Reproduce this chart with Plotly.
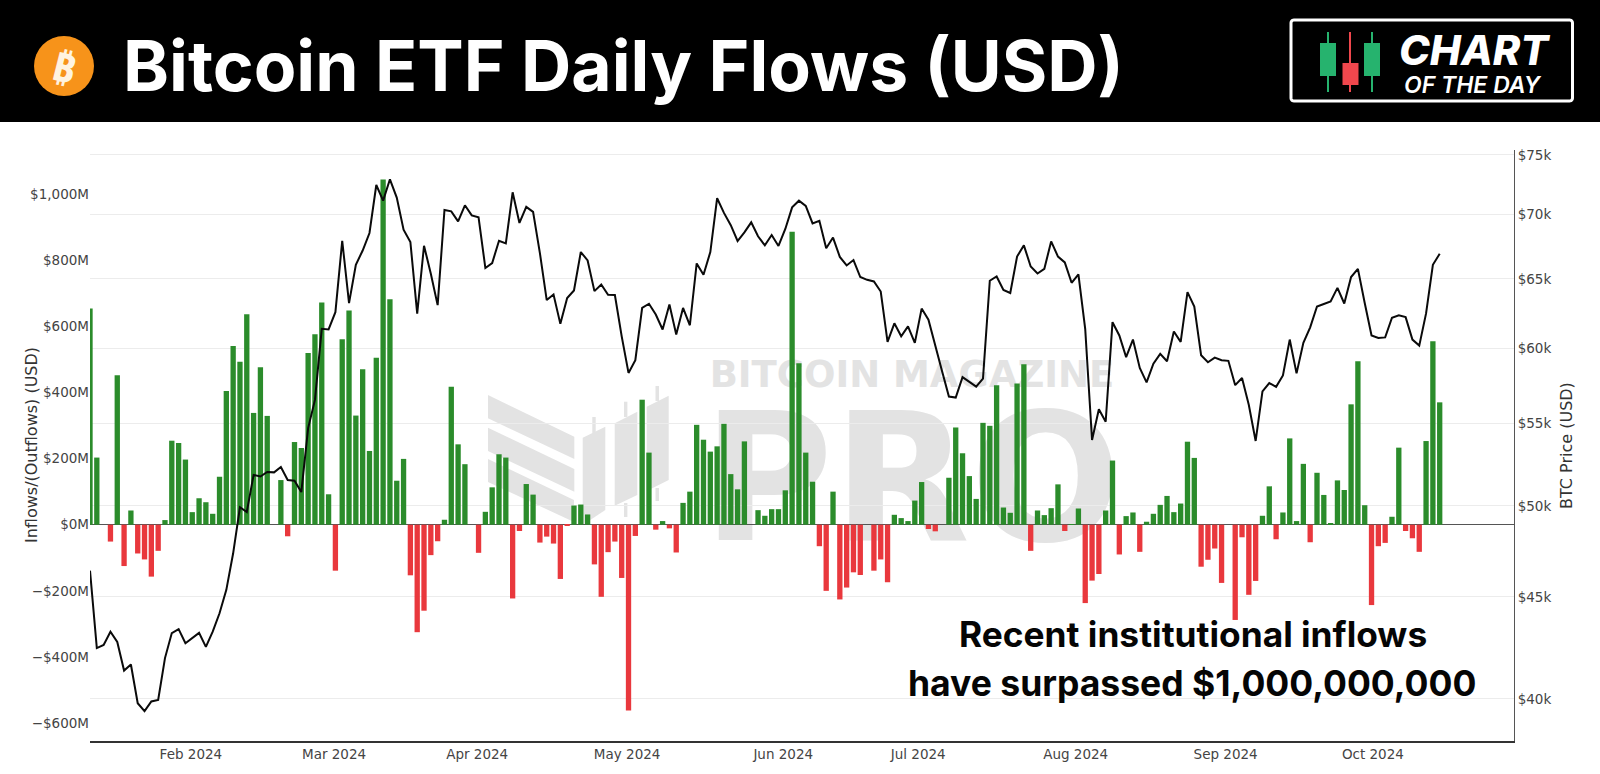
import math
import plotly.graph_objects as go

# Daily net flows (USD millions), one per trading session
flows_m = [654, 203, 0, -51, 452, -125, 43, -87, -105, -157, -79, 14, 254, 247, 197, 38, 80, 68, 33, 145,
           404, 540, 493, 636, 338, 476, 329, 0, 135, -35, 250, 232, 519, 576, 672, 92, -139, 561, 648, 330,
           470, 223, 505, 1044, 682, 133, 199, -153, -325, -260, -92, -50, 15, 417, 243, 183, 0, -85, 39, 113,
           213, 203, -223, -19, 123, 91, -54, -36, -57, -164, -4, 58, 61, 31, -120, -218, -83, -51, -161, -562,
           -34, 378, 218, -15, 11, -11, -84, 66, 100, 302, 257, 221, 237, 305, 153, 107, 252, 0, 44, 27,
           47, 47, 104, 886, 488, 218, 130, -65, -200, 100, -226, -190, -144, -152, 0, -139, -105, -174, 30, 20,
           11, 73, 129, -13, -20, 0, 142, 294, 216, 147, 78, 308, 299, 422, 52, 36, 427, 485, -79, 43,
           29, 50, 122, -19, 1, 49, -237, -169, -149, 43, 194, -90, 26, 37, -82, 9, 33, 60, 87, 38,
           64, 251, 202, -127, -106, -72, -176, 0, -288, -38, -212, -170, 27, 116, -44, 37, 261, 11, 184, -53,
           157, 90, 4, 134, 105, 364, 494, 59, -243, -65, -55, 24, 233, -19, -41, -82, 253, 555, 370]

# BTC close (USD thousands), same sessions
btc_k = [46.39, 42.42, 42.57, 43.23, 42.72, 41.33, 41.62, 39.80, 39.44, 39.88, 39.95, 41.93, 43.16, 43.36, 42.66, 42.91, 43.17, 42.48, 43.23, 44.16,
         45.37, 47.33, 49.92, 49.64, 51.82, 51.72, 51.99, 51.97, 52.29, 51.51, 51.47, 50.80, 54.70, 56.51, 61.35, 61.30, 62.54, 67.92, 63.20, 66.06,
         67.16, 68.53, 72.44, 71.14, 72.92, 71.39, 68.80, 67.82, 62.43, 67.53, 65.38, 63.05, 70.38, 70.27, 69.46, 70.76, 69.94, 69.78, 65.81, 66.19,
         67.92, 67.71, 71.83, 69.33, 70.63, 70.22, 66.96, 63.42, 63.83, 61.70, 63.57, 64.13, 67.04, 66.39, 64.08, 64.57, 63.81, 63.79, 60.82, 58.30,
         59.16, 62.85, 63.15, 62.37, 61.30, 63.10, 60.94, 62.85, 61.60, 66.16, 65.30, 67.04, 71.34, 70.14, 69.15, 67.90, 68.58, 69.38, 68.27, 67.56,
         68.37, 67.51, 68.85, 70.59, 71.14, 70.71, 69.30, 69.51, 67.34, 68.17, 66.66, 66.01, 66.42, 65.13, 64.92, 64.80, 64.05, 60.43, 61.74, 60.82,
         61.52, 60.36, 62.80, 62.00, 60.12, 58.41, 56.73, 56.66, 58.02, 57.70, 57.38, 57.92, 64.85, 65.17, 64.16, 63.94, 66.69, 67.56, 65.93, 65.40,
         65.75, 67.87, 66.69, 66.24, 64.70, 65.33, 61.32, 53.95, 55.90, 55.10, 61.82, 60.88, 59.37, 60.59, 58.64, 57.67, 58.92, 59.60, 59.09, 61.16,
         60.43, 64.00, 62.95, 59.50, 59.02, 59.34, 59.16, 59.12, 57.48, 57.96, 56.18, 53.89, 57.07, 57.62, 57.37, 58.13, 60.59, 58.27, 60.36, 61.45,
         62.95, 63.13, 63.32, 64.32, 63.17, 65.13, 65.75, 63.20, 60.88, 60.70, 60.74, 62.14, 62.31, 62.18, 60.59, 60.17, 62.45, 66.06, 66.90]

sessions = list(range(len(flows_m)))
month_labels = ["Feb 2024", "Mar 2024", "Apr 2024", "May 2024", "Jun 2024", "Jul 2024", "Aug 2024", "Sep 2024", "Oct 2024"]
month_positions = [14.8, 35.8, 56.8, 78.8, 101.7, 121.5, 144.6, 166.6, 188.2]
price_ticks = [40, 45, 50, 55, 60, 65, 70, 75]
price_labels = ["$40k", "$45k", "$50k", "$55k", "$60k", "$65k", "$70k", "$75k"]

GREEN, RED = "#2b8c2b", "#e9383d"
WM = "#e3e3e3"
FONT = "DejaVu Sans"

# Plot box in page pixels
L, R, T, B = 90, 1514, 150, 741
px = lambda x: (x - L) / (R - L)
py = lambda y: (B - y) / (B - T)


def rect(x0, y0, x1, y1, fill, line=None, lw=0, layer="above"):
    return dict(type="rect", xref="paper", yref="paper", x0=px(x0), x1=px(x1), y0=py(y0), y1=py(y1),
                fillcolor=fill, line=dict(color=line or fill, width=lw), layer=layer)


def poly(points, fill, layer="below"):
    d = "M" + " L".join(f"{px(x):.5f},{py(y):.5f}" for x, y in points) + " Z"
    return dict(type="path", xref="paper", yref="paper", path=d, fillcolor=fill, line=dict(width=0), layer=layer)


def rounded(x0, y0, x1, y1, r):
    pts = []
    for cx, cy, a0 in [(x1 - r, y0 + r, -90), (x1 - r, y1 - r, 0), (x0 + r, y1 - r, 90), (x0 + r, y0 + r, 180)]:
        for k in range(7):
            a = math.radians(a0 + 15 * k)
            pts.append((cx + r * math.cos(a), cy + r * math.sin(a)))
    return pts


def text(x, y, s, size, color, family="Inter", weight=400, style="normal", angle=0, anchor="center"):
    return dict(xref="paper", yref="paper", x=px(x), y=py(y), text=s, showarrow=False, textangle=angle,
                xanchor=anchor, yanchor="middle", font=dict(family=family, size=size, color=color, weight=weight, style=style))


fig = go.Figure()
fig.add_trace(go.Bar(x=sessions, y=flows_m, yaxis="y", width=0.78, showlegend=False,
                     marker=dict(color=[GREEN if v >= 0 else RED for v in flows_m], line=dict(width=0))))
fig.add_trace(go.Scatter(x=sessions, y=btc_k, yaxis="y2", mode="lines", showlegend=False, cliponaxis=False,
                         line=dict(color="#0a0a0a", width=2)))

shapes = [
    # header band
    rect(0, 0, 1600, 122, "#000000"),
    dict(type="circle", xref="paper", yref="paper", x0=px(34), x1=px(94), y0=py(36), y1=py(96),
         fillcolor="#F7931A", line=dict(width=0), layer="above"),
    # badge
    poly(rounded(1291, 20, 1572.5, 101, 3), "rgba(0,0,0,0)", "above") | {"line": dict(color="#ffffff", width=3)},
    rect(1327, 32, 1329, 92, "#26b36e"), rect(1320, 43, 1336, 76, "#26b36e"),
    rect(1349, 32, 1351, 92, "#f0474d"), rect(1342.5, 63, 1358.5, 85, "#f0474d"),
    rect(1371, 32, 1373, 92, "#26b36e"), rect(1364, 43, 1380, 76, "#26b36e"),
    # watermark mark
    poly([(488, 395), (574.3, 436.7), (574.3, 459), (488, 418.3)], WM),
    poly([(488, 427.7), (574.3, 469), (574.3, 491.7), (488, 451)], WM),
    poly([(488, 459), (574, 500), (574, 522), (488, 482)], WM),
    poly([(582.7, 437.7), (605.3, 426.7), (605.3, 510), (582.7, 525)], WM),
    poly([(614.7, 423.3), (637.3, 411.7), (637.3, 495), (614.7, 505.7)], WM),
    poly([(646.7, 406.7), (668.7, 395.7), (668.7, 480), (646.7, 491)], WM),
    rect(592.3, 417, 595.7, 433, WM, layer="below"),
    rect(624, 401.7, 627.4, 417, WM, layer="below"), rect(624, 503, 627.4, 517, WM, layer="below"),
    rect(655.5, 386, 659, 401, WM, layer="below"), rect(655.5, 488, 659, 501, WM, layer="below"),
    # watermark words sit under the bars
    dict(type="rect", xref="paper", yref="paper", x0=px(700), x1=px(1124), y0=py(350), y1=py(392),
         fillcolor="rgba(0,0,0,0)", line=dict(width=0), layer="below",
         label=dict(text="<b>BITCOIN MAGAZINE</b>", textposition="middle center",
                    font=dict(family=FONT, size=37, color=WM, weight=800))),
    dict(type="rect", xref="paper", yref="paper", x0=px(700), x1=px(1124), y0=py(390), y1=py(540),
         fillcolor="rgba(0,0,0,0)", line=dict(width=0), layer="below",
         label=dict(text="<b>PRO</b>", textposition="middle center",
                    font=dict(family=FONT, size=178, color=WM, weight=800))),
]

annotations = [
    text(121, 66, "Bitcoin ETF Daily Flows (USD)", 69.6, "#ffffff", weight=700, anchor="left"),
    text(64.5, 66, "₿", 40, "#fff3e0", family="Noto Sans", weight=700, angle=14),
    text(1474, 50, "CHART", 41.5, "#ffffff", weight=800, style="italic"),
    text(1473, 85, "OF THE DAY", 23, "#ffffff", weight=600, style="italic"),
    text(1193, 634.5, "Recent institutional inflows", 35.3, "#050505", weight=700),
    text(1192, 683.5, "have surpassed $1,000,000,000", 35.5, "#050505", weight=700),
    text(31, 445, "Inflows/(Outflows) (USD)", 16, "#333333", family=FONT, angle=-90),
    text(1566, 446, "BTC Price (USD)", 16, "#333333", family=FONT, angle=-90),
]

fig.update_layout(
    width=1600, height=774, autosize=False,
    margin=dict(l=L, r=1600 - R, t=T, b=774 - B, pad=0),
    paper_bgcolor="#ffffff", plot_bgcolor="rgba(0,0,0,0)",
    font=dict(family=FONT, size=13, color="#444444"),
    bargap=0.2, showlegend=False, shapes=shapes, annotations=annotations,
    xaxis=dict(range=[0, 208.9], tickmode="array", tickvals=month_positions, ticktext=month_labels,
               showgrid=False, zeroline=False, ticks="", showline=True, linecolor="#333333", linewidth=1.5,
               tickfont=dict(size=13.5, color="#444444")),
    yaxis=dict(range=[-654, 1133], dtick=200, tick0=0, tickformat="$,.0f", ticksuffix="M", showgrid=False,
               zeroline=True, zerolinecolor="#555555", zerolinewidth=1, ticks="", showline=False,
               tickfont=dict(size=13.5, color="#444444")),
    yaxis2=dict(type="log", overlaying="y", side="right", range=[math.log10(38.1), math.log10(75.43)],
                tickmode="array", tickvals=price_ticks, ticktext=price_labels, showgrid=True,
                gridcolor="#ececec", gridwidth=1, zeroline=False, ticks="", showline=True,
                linecolor="#555555", linewidth=1, tickfont=dict(size=13.5, color="#444444")),
)

fig.write_html("out.html", config={"displayModeBar": False},
               post_script="document.body.style.margin='0';document.body.style.overflow='hidden';")
